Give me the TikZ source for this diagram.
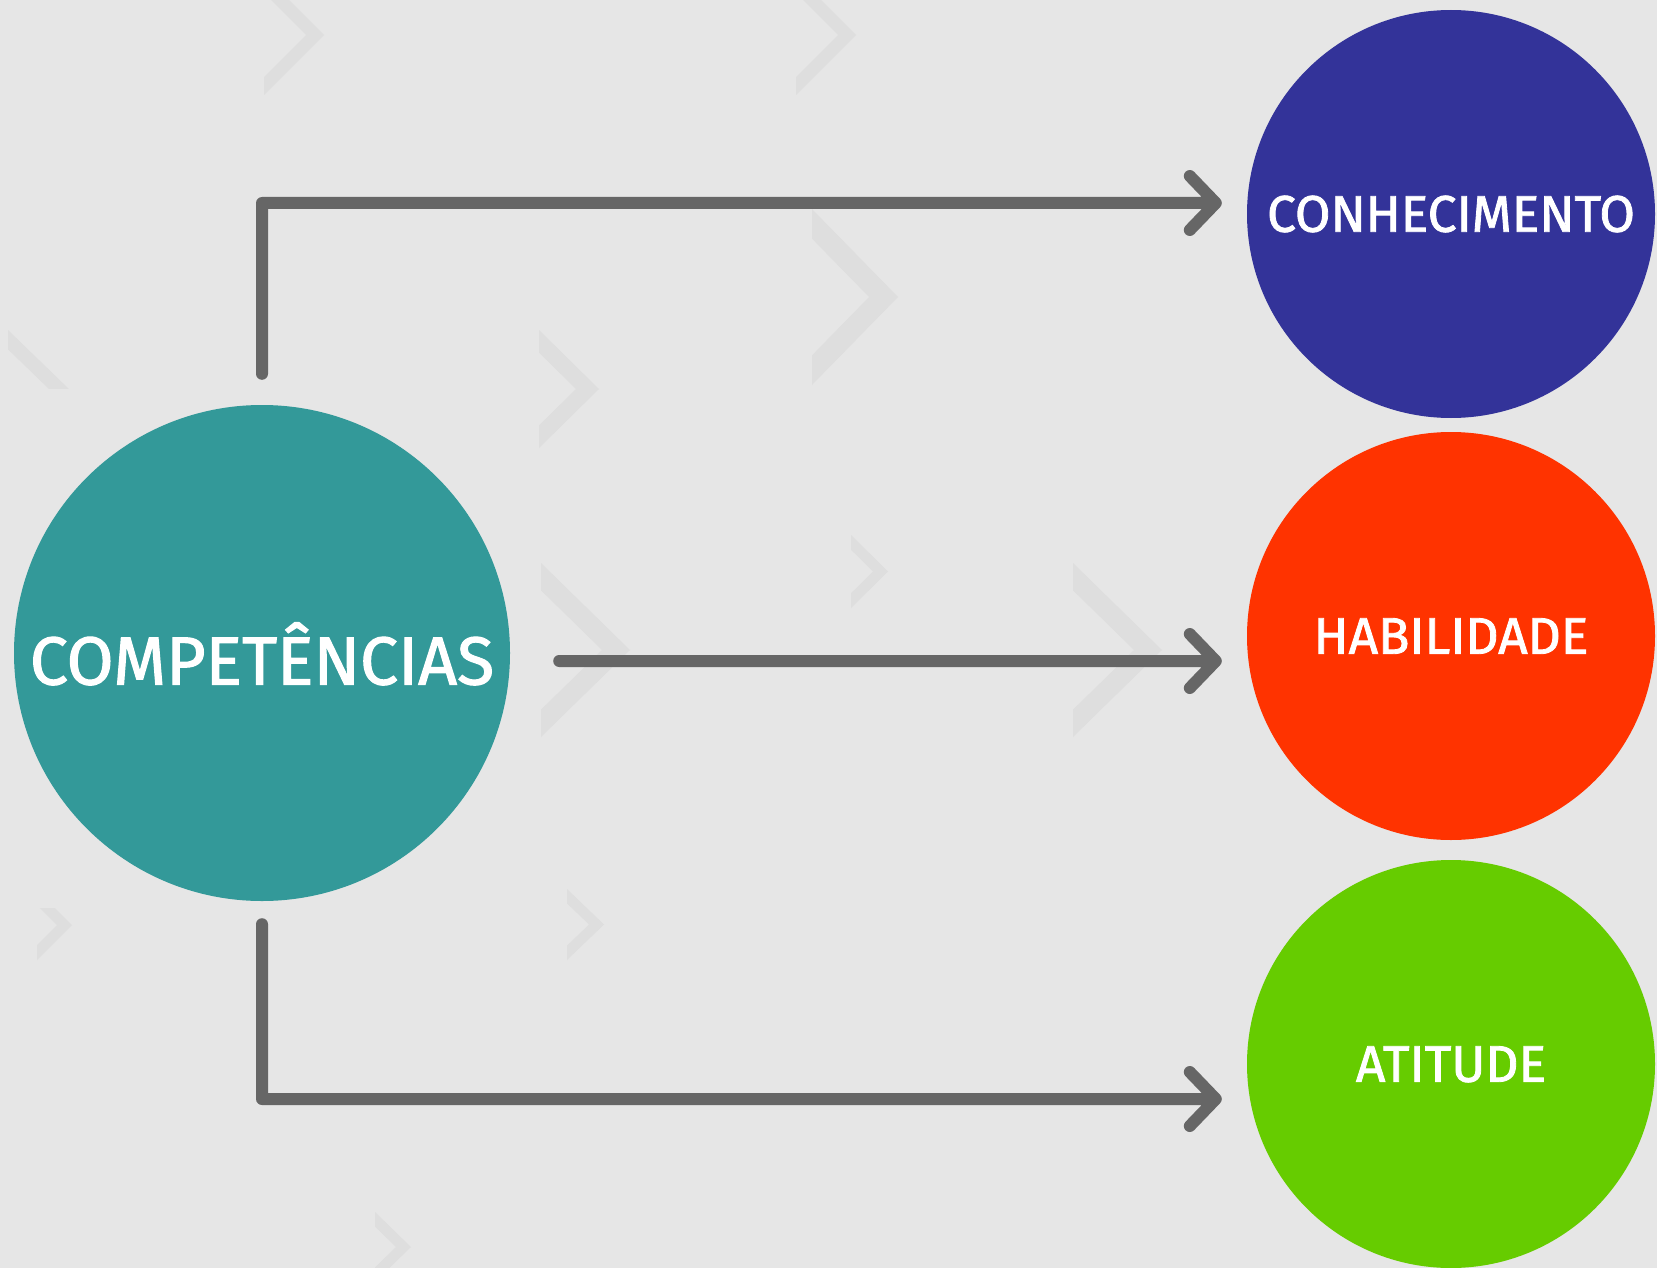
\documentclass[tikz,border=0pt]{standalone}
\usepackage{fontspec}
\setmainfont{Fira Sans}
\newfontfamily\lblfont{Fira Sans}[FakeBold=1.6]
\definecolor{bgc}{HTML}{E6E6E6}
\definecolor{chevc}{HTML}{DEDEDE}
\definecolor{tealc}{HTML}{339999}
\definecolor{bluec}{HTML}{333399}
\definecolor{redc}{HTML}{FF3300}
\definecolor{greenc}{HTML}{66CC00}
\definecolor{linec}{HTML}{666666}
\newcommand\chevr[5]{%
  \fill[chevfill] (#1,#2) -- ({#1+#3},{#2+#4/2}) -- (#1,{#2+#4})
    -- (#1,{#2+#4-#4*#5/(2*#3)}) -- ({#1+#3-#5},{#2+#4/2})
    -- (#1,{#2+#4*#5/(2*#3)}) -- cycle;}
\begin{document}
\begin{tikzpicture}[x=1pt,y=-1pt,
  chevfill/.style={fill=chevc},
  circ/.style={circle, inner sep=0pt, minimum size=408pt, text=white,
    font=\lblfont\fontsize{51.5}{60}\selectfont, text height=35.5pt, text depth=0pt},
  bigcirc/.style={circle, inner sep=0pt, minimum size=496pt, fill=tealc, text=white,
    font=\lblfont\fontsize{68}{80}\selectfont, text height=63pt, text depth=0pt},
  conn/.style={draw=linec, line width=12pt, line cap=round, line join=round}]
\useasboundingbox (0,0) rectangle (1657,1268);
\fill[bgc] (0,0) rectangle (1657,1268);
% background chevrons
\chevr{264}{-25}{60}{120}{18}
\chevr{796}{-25}{60}{120}{18}
\chevr{812}{209}{86}{176}{29}
\chevr{539}{330}{60}{118}{23}
\chevr{8}{330}{62}{120}{20}
\chevr{541}{563}{89}{174}{28}
\chevr{851}{535}{37}{73}{15}
\chevr{1073}{563}{89}{174}{28}
\chevr{37}{890}{35}{70}{15}
\chevr{567}{889}{37}{71}{15}
\chevr{375}{1212}{36}{70}{15}
\fill[bgc] (0,389) rectangle (525,908);
% nodes
\node[bigcirc] (comp) at (262,653) {COMPETÊNCIAS};
\node[circ, fill=bluec] (con) at (1451,214) {CONHECIMENTO};
\node[circ, fill=redc] (hab) at (1451,636) {HABILIDADE};
\node[circ, fill=greenc] (ati) at (1451,1064) {ATITUDE};
% connector end points
\coordinate (s1) at ([yshift=31pt]comp.north);
\coordinate (s2) at ([xshift=49pt,yshift=-8pt]comp.east);
\coordinate (s3) at ([yshift=-23pt]comp.south);
\coordinate (t1) at ([xshift=-31pt,yshift=11pt]con.west);
\coordinate (t2) at ([xshift=-31pt,yshift=-25pt]hab.west);
\coordinate (t3) at ([xshift=-31pt,yshift=-35pt]ati.west);
% connectors
\draw[conn] (s1) |- (t1) -- ([shift={(-26,-27)}]t1) (t1) -- ([shift={(-26,27)}]t1);
\draw[conn] (s2) -- (t2) -- ([shift={(-26,-27)}]t2) (t2) -- ([shift={(-26,27)}]t2);
\draw[conn] (s3) |- (t3) -- ([shift={(-26,-27)}]t3) (t3) -- ([shift={(-26,27)}]t3);
\end{tikzpicture}
\end{document}
